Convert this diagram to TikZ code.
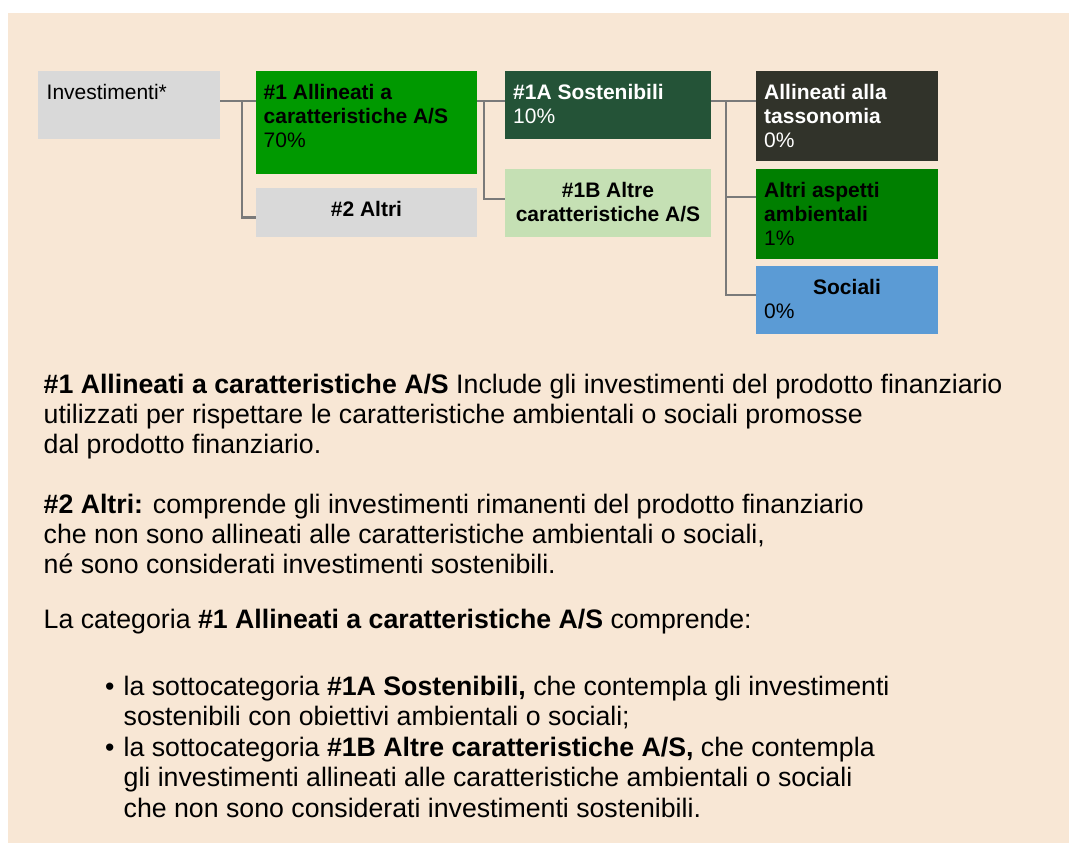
\documentclass[tikz,border=0pt]{standalone}
\usepackage{fontspec}
\setmainfont{Liberation Sans}
\definecolor{bgc}{HTML}{F8E7D5}
\definecolor{grayb}{HTML}{D9D9D9}
\definecolor{greenA}{HTML}{009900}
\definecolor{dkgreen}{HTML}{245337}
\definecolor{ltgreen}{HTML}{C5E0B4}
\definecolor{taxc}{HTML}{31332A}
\definecolor{altc}{HTML}{007F00}
\definecolor{socc}{HTML}{5B9BD5}
\definecolor{conngray}{HTML}{7A7A7A}
\begin{document}
\begin{tikzpicture}[x=1pt,y=-1pt,
  box/.style={anchor=north west, inner sep=0pt, outer sep=0pt, draw=none},
  conn/.style={draw=conngray, line width=2.8pt},
  bt/.style={anchor=base west, inner sep=0pt, font=\fontsize{21}{24}\selectfont},
  btc/.style={anchor=base, inner sep=0pt, font=\fontsize{21}{24}\selectfont},
  body/.style={anchor=base west, inner sep=0pt, font=\fontsize{26.7}{30}\selectfont}]
\useasboundingbox (0,0) rectangle (1069,843);
\fill[bgc] (8,13) rectangle (1069,843);

% boxes
\node[box, fill=grayb, minimum width=182pt, minimum height=68pt] (inv) at (38,71) {};
\node[box, fill=greenA, minimum width=221pt, minimum height=103pt] (a1) at (256,71) {};
\node[box, fill=grayb, minimum width=221pt, minimum height=49pt] (a2) at (256,188) {};
\node[box, fill=dkgreen, minimum width=206pt, minimum height=68pt] (s1a) at (505,71) {};
\node[box, fill=ltgreen, minimum width=206pt, minimum height=68pt] (s1b) at (505,169) {};
\node[box, fill=taxc, minimum width=182pt, minimum height=90pt] (tax) at (756,71) {};
\node[box, fill=altc, minimum width=182pt, minimum height=90pt] (alt) at (756,169) {};
\node[box, fill=socc, minimum width=182pt, minimum height=68pt] (soc) at (756,266) {};

% connectors
\draw[conn] ([yshift=-30pt]inv.north east) -- ([yshift=-30pt]a1.north west);
\draw[conn] ([xshift=22pt,yshift=-30pt]inv.north east) |- ([yshift=-29.5pt]a2.north west);
\draw[conn] ([yshift=-30pt]a1.north east) -- ([yshift=-30pt]s1a.north west);
\draw[conn] ([xshift=7pt,yshift=-30pt]a1.north east) |- ([yshift=-30pt]s1b.north west);
\draw[conn] ([yshift=-30pt]s1a.north east) -- ([yshift=-30pt]tax.north west);
\draw[conn] ([xshift=15pt,yshift=-30pt]s1a.north east) |- ([yshift=-28pt]alt.north west);
\draw[conn] ([xshift=15pt,yshift=-30pt]s1a.north east) |- ([yshift=-29pt]soc.north west);

% box texts
\node[bt] (invT) at (46.5,99.3) {Investimenti*};
\node[bt] (a1T1) at (263.5,99.3) {\bfseries \#1 Allineati a};
\node[bt] (a1T2) at (263.5,123.3) {\bfseries caratteristiche A/S};
\node[bt] (a1T3) at (263.5,147.3) {70\%};
\node[btc] (a2T) at (366.5,216.5) {\bfseries \#2 Altri};
\node[bt, text=white] (s1aT1) at (513,99.3) {\bfseries \#1A Sostenibili};
\node[bt, text=white] (s1aT2) at (513,123) {10\%};
\node[btc] (s1bT1) at (608,197) {\bfseries \#1B Altre};
\node[btc] (s1bT2) at (608,221.5) {\bfseries caratteristiche A/S};
\node[bt, text=white] (taxT1) at (764,99.3) {\bfseries Allineati alla};
\node[bt, text=white] (taxT2) at (764,123.3) {\bfseries tassonomia};
\node[bt, text=white] (taxT3) at (764,147.5) {0\%};
\node[bt] (altT1) at (764,197) {\bfseries Altri aspetti};
\node[bt] (altT2) at (764,221) {\bfseries ambientali};
\node[bt] (altT3) at (764,245.5) {1\%};
\node[btc] (socT1) at (847,294) {\bfseries Sociali};
\node[bt] (socT2) at (764,318) {0\%};

% body text
\node[body] (p1a) at (43.5,393) {\textbf{\#1 Allineati a caratteristiche A/S} Include gli investimenti del prodotto finanziario};
\node[body] (p1b) at (43.5,423) {utilizzati per rispettare le caratteristiche ambientali o sociali promosse};
\node[body] (p1c) at (43.5,453) {dal prodotto finanziario.};
\node[body] (p2a) at (43.5,513) {\textbf{\#2 Altri:} comprende gli investimenti rimanenti del prodotto finanziario};
\node[body] (p2b) at (43.5,543) {che non sono allineati alle caratteristiche ambientali o sociali,};
\node[body] (p2c) at (43.5,573) {né sono considerati investimenti sostenibili.};
\node[body] (p3) at (43.5,628) {La categoria \textbf{\#1 Allineati a caratteristiche A/S} comprende:};
\node[body] (b1) at (105,695) {•};
\node[body] (l1) at (123.5,695) {la sottocategoria \textbf{\#1A Sostenibili,} che contempla gli investimenti};
\node[body] (l2) at (123.5,725.5) {sostenibili con obiettivi ambientali o sociali;};
\node[body] (b2) at (105,756) {•};
\node[body] (l3) at (123.5,756) {la sottocategoria \textbf{\#1B Altre caratteristiche A/S,} che contempla};
\node[body] (l4) at (123.5,786.5) {gli investimenti allineati alle caratteristiche ambientali o sociali};
\node[body] (l5) at (123.5,817) {che non sono considerati investimenti sostenibili.};
\end{tikzpicture}
\end{document}
